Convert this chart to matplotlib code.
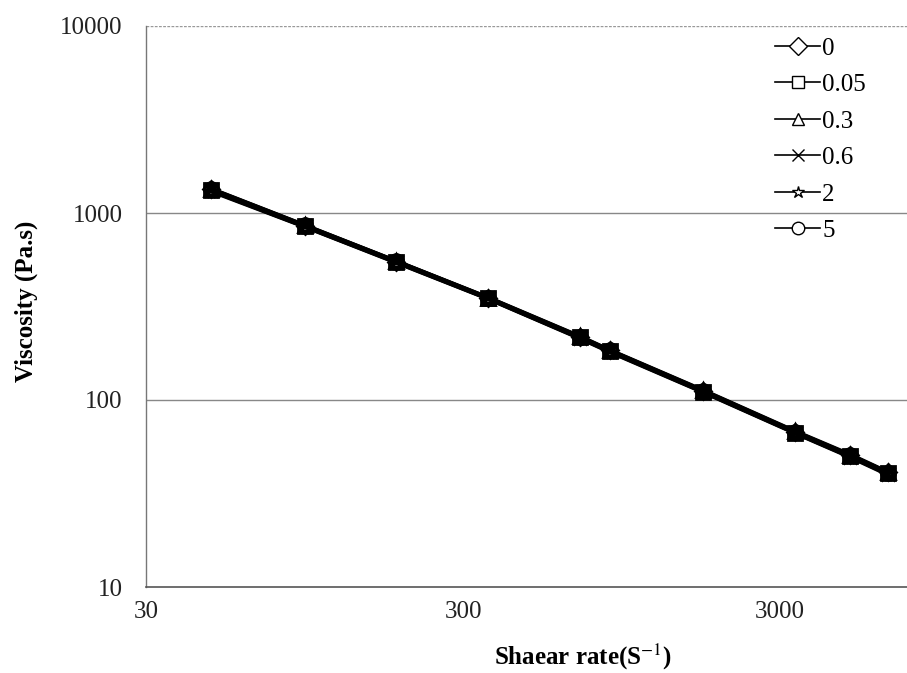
import matplotlib
matplotlib.use("Agg")
import matplotlib.pyplot as plt
from matplotlib.ticker import FixedLocator, NullLocator, FixedFormatter

shear_rate = [48, 95, 185, 360, 700, 870, 1720, 3350, 5000, 6550]
labels = ["0", "0.05", "0.3", "0.6", "2", "5"]
visc_0    = [1340, 855, 550, 352, 218, 184, 112, 67.5, 50.5, 41.0]
visc_005  = [1330, 850, 548, 350, 216, 183, 111, 67.0, 50.0, 40.5]
visc_03   = [1350, 860, 552, 353, 219, 185, 112.5, 68.0, 51.0, 41.2]
visc_06   = [1320, 848, 545, 349, 215, 182, 110.5, 66.8, 49.8, 40.3]
visc_2    = [1310, 845, 543, 348, 214, 181, 110, 66.5, 49.5, 40.0]
visc_5    = [1345, 858, 551, 351, 217, 184, 111.5, 67.6, 50.6, 40.8]
series = [visc_0, visc_005, visc_03, visc_06, visc_2, visc_5]
markers = ["D", "s", "^", "x", "*", "o"]
msizes = [8, 10, 10, 10, 11, 10]

yticks = [10, 100, 1000, 10000]
xticks = [30, 300, 3000]

plt.rcParams['font.family'] = ['Liberation Serif', 'DejaVu Serif']
plt.rcParams['mathtext.fontset'] = 'stix'

fig = plt.figure(figsize=(9.07, 6.73), dpi=100)
ax = fig.add_axes([146/907, 1-587/673, 1-146/907, (587-26)/673])

for vals, lab, m, ms in zip(series, labels, markers, msizes):
    ax.plot(shear_rate, vals, color='black', lw=3.0, marker=m, markersize=ms,
            markerfacecolor='none', markeredgecolor='black', markeredgewidth=2.0,
            label=lab)

ax.set_xscale('log')
ax.set_yscale('log')
ax.set_xlim(30, 30 * 10 ** ((907 - 146) / 317))
ax.set_ylim(10, 10000)

ax.xaxis.set_major_locator(FixedLocator(xticks))
ax.xaxis.set_major_formatter(FixedFormatter([str(v) for v in xticks]))
ax.xaxis.set_minor_locator(NullLocator())
ax.yaxis.set_major_locator(FixedLocator(yticks))
ax.yaxis.set_major_formatter(FixedFormatter([str(v) for v in yticks]))
ax.yaxis.set_minor_locator(NullLocator())

ax.tick_params(axis='both', length=0, labelsize=18, colors='#222222')
ax.tick_params(axis='y', pad=17)
ax.tick_params(axis='x', pad=10)

for v in [100, 1000]:
    ax.axhline(v, color='#888888', lw=1.0, zorder=0)
ax.axhline(10000, color='#999999', lw=1.0, ls=(0, (2, 1)), zorder=0)

ax.spines['top'].set_visible(False)
ax.spines['right'].set_visible(False)
ax.spines['left'].set_color('#777777')
ax.spines['bottom'].set_color('#555555')
ax.spines['left'].set_linewidth(1.0)
ax.spines['bottom'].set_linewidth(1.2)

ax.set_ylabel("Viscosity (Pa.s)", fontsize=18, fontweight='bold')
ax.yaxis.set_label_coords(-0.142, (673 - 301 - (673 - 587)) / (587 - 26))
ax.set_xlabel("Shaear rate(S$^{\\mathrm{-1}}$)", fontsize=18, fontweight='bold')
ax.xaxis.set_label_coords((583 - 146) / (907 - 146), -0.097)

leg = ax.legend(loc='upper right', bbox_to_anchor=(0.959, 0.998), frameon=False,
                fontsize=18, handlelength=1.8, handletextpad=0.08,
                labelspacing=0.56, borderaxespad=0.0)
for h in leg.get_lines():
    h.set_linewidth(1.2)
    h.set_markeredgewidth(1.0)
    h.set_markerfacecolor('white')
    h.set_markersize(9)

fig.savefig("out.png", dpi=100)
